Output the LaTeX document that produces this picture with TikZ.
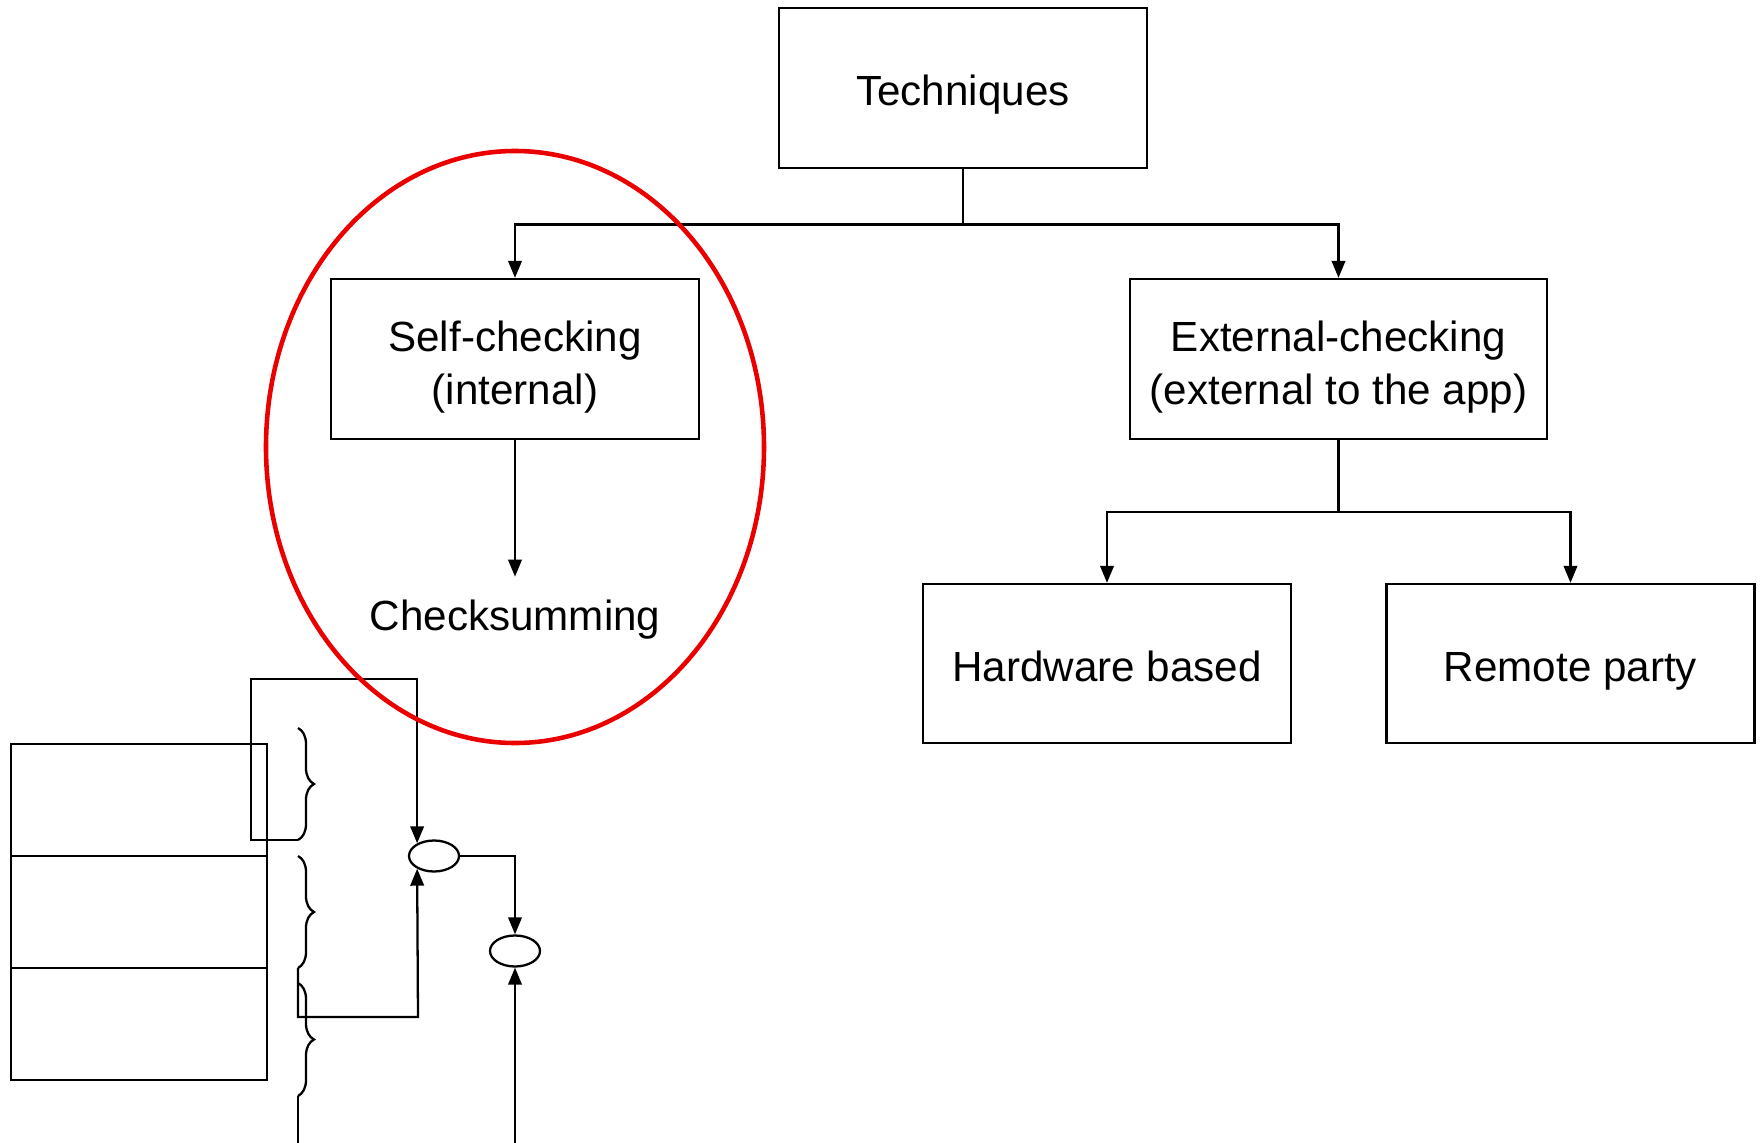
\documentclass[tikz,border=0pt]{standalone}
\usepackage{fontspec}
\setmainfont{Liberation Sans}
\usepackage{tikz}
\usetikzlibrary{arrows.meta,positioning,calc,shapes.geometric,decorations.pathreplacing}
\definecolor{inkblack}{RGB}{0,0,0}
\definecolor{markred}{RGB}{235,0,0}
\tikzset{
  base/.style={font=\fontsize{12}{15}\selectfont, align=center, inner sep=3pt, text=inkblack},
  one/.style={text height=1.25em, text depth=0.25em},
  two/.style={text height=26pt, text depth=0pt},
  box/.style={base, rectangle, draw=inkblack, fill=white, line width=0.65pt, minimum height=1.6cm, minimum width=3.68cm},
  row/.style={rectangle, draw=inkblack, line width=0.65pt, minimum width=2.56cm, minimum height=1.12cm, inner sep=0pt},
  blob/.style={ellipse, draw=inkblack, line width=0.65pt, minimum width=0.5cm, minimum height=0.31cm, inner sep=0pt},
  ring/.style={ellipse, draw=markred, line width=1.3pt, minimum width=4.98cm, minimum height=5.92cm, inner sep=0pt},
  arr/.style={-{Triangle[length=1.7mm,width=1.35mm]}, line width=0.65pt, draw=inkblack},
  ln/.style={line width=0.65pt, draw=inkblack},
  brc/.style={ln, decorate, decoration={brace, amplitude=0.16cm}},
}
\begin{document}
\begin{tikzpicture}
  \useasboundingbox (0,0) rectangle (17.6,-11.43);
  % tree part
  \node[box,one] (tech) at (9.63,-0.88) {Techniques};
  \node[box,two] (self) at (5.15,-3.59) {Self-checking\\(internal)};
  \node[box,two,minimum width=4.17cm] (ext) at (13.385,-3.59) {External-checking\\(external to the app)};
  \node[base,one,inner sep=2.5pt] (chk) at (5.15,-6.125) {Checksumming};
  \node[box,one,minimum height=1.59cm] (hw) at (11.07,-6.635) {Hardware based};
  \node[box,one,minimum height=1.59cm] (rp) at (15.705,-6.635) {Remote party};
  \coordinate (j1) at (9.63,-2.245);
  \coordinate (j2) at (13.385,-5.12);
  \draw[ln] (tech) -- (j1);
  \draw[arr] (j1) -| (self.north);
  \draw[arr] (j1) -| (ext.north);
  \draw[arr] (self) -- (chk);
  \draw[ln] (ext) -- (j2);
  \draw[arr] (j2) -| (hw.north);
  \draw[arr] (j2) -| (rp.north);
  % memory stack with braces
  \node[row] (r1) at (1.39,-8.00) {};
  \node[row] (r2) at (1.39,-9.12) {};
  \node[row] (r3) at (1.39,-10.24) {};
  \coordinate (b1t) at (2.98,-7.28);  \coordinate (b1b) at (2.98,-8.40);
  \coordinate (b2t) at (2.98,-8.56);  \coordinate (b2b) at (2.98,-9.68);
  \coordinate (b3t) at (2.98,-9.83);  \coordinate (b3b) at (2.98,-10.96);
  \draw[brc] (b1t) -- (b1b);
  \draw[brc] (b2t) -- (b2b);
  \draw[brc] (b3t) -- (b3b);
  \node[blob] (e1) at (4.34,-8.56) {};
  \node[blob] (e2) at (5.15,-9.51) {};
  \coordinate (loopA) at (2.51,-6.79);
  \coordinate (loopB) at (4.18,-10.17);
  \coordinate (lowL) at (2.98,-11.43);
  \coordinate (lowR) at (5.15,-11.43);
  \draw[arr] (b1b) -| (loopA) -| (e1.143);
  \draw[arr] (b2b) |- (loopB) -- (e1.217);
  \draw[arr] (e1.east) -| (e2.north);
  \draw[arr] (lowR) -- (e2.south);
  \draw[ln] (b3b) -- (lowL);
  % highlight
  \node[ring] (focus) at (5.15,-4.47) {};
\end{tikzpicture}
\end{document}
